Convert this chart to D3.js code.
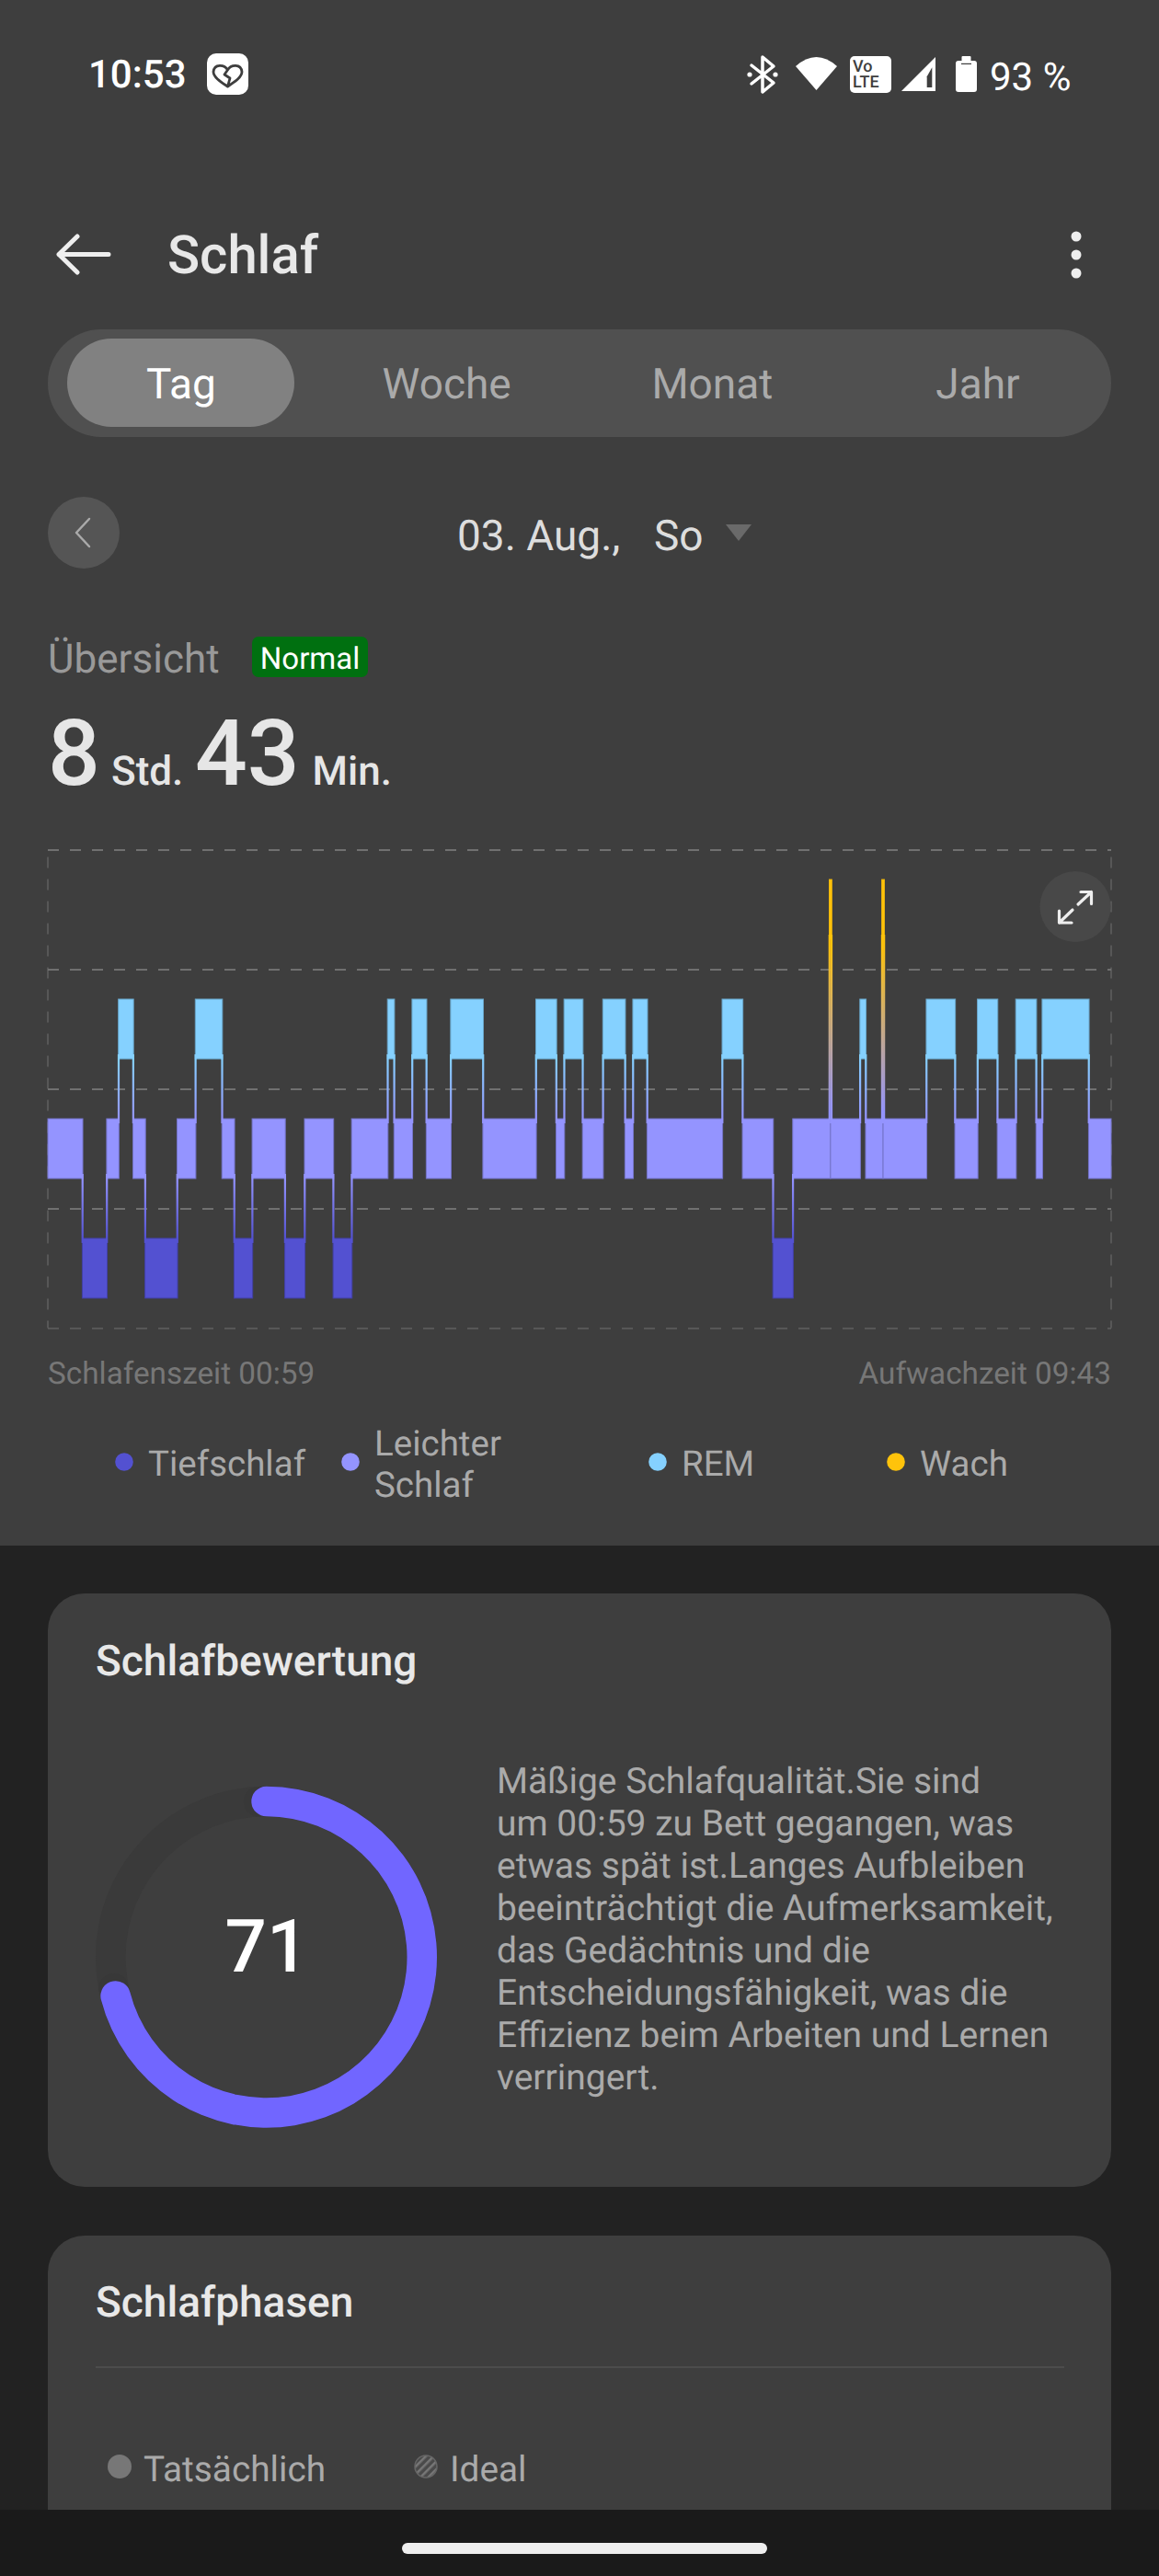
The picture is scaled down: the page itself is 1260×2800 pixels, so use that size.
<!DOCTYPE html>
<html>
<head>
    <meta charset="UTF-8">
    <title>Schlaf</title>
    <style>
        body { margin: 0; background: #222222; }
        svg { display: block; }
        text { font-family: Roboto, sans-serif; text-rendering: geometricPrecision; }
    </style>
</head>
<body>
<script src="https://cdn.jsdelivr.net/npm/d3@7/dist/d3.min.js"></script>
<script>
    // stages, top to bottom as in the chart
    const stageNames = ["Wach", "REM", "Leicht", "Tief"];
    const legendLabels = ["Tiefschlaf", "Leichter Schlaf", "REM", "Wach"];

    // minutes after falling asleep at which each phase begins
    const phaseStart = [0, 17.1, 29.1, 34.9, 42.1, 48, 63.8, 72.8, 85.9, 91.9, 100.8, 116.9, 126.6, 140.7, 149.8,
        167.5, 170.7, 179.6, 186.6, 198.6, 214.5, 240.6, 250.6, 254.5, 263.6, 273.6, 284.5, 288.4, 295.4, 332.4,
        342.4, 357.4, 367.2, 385.2, 386.2, 400.3, 403.1, 411.1, 412.1, 433, 447.1, 458.2, 468, 477.1, 487.1,
        490.1, 513];
    const phaseStage = ["Leicht", "Tief", "Leicht", "REM", "Leicht", "Tief", "Leicht", "REM", "Leicht", "Tief", "Leicht", "Tief", "Leicht", "Tief", "Leicht",
        "REM", "Leicht", "REM", "Leicht", "REM", "Leicht", "REM", "Leicht", "REM", "Leicht", "REM", "Leicht", "REM", "Leicht", "REM",
        "Leicht", "Tief", "Leicht", "Wach", "Leicht", "REM", "Leicht", "Wach", "Leicht", "REM", "Leicht", "REM", "Leicht", "REM", "Leicht",
        "REM", "Leicht"];
    const totalMinutes = 524;

    const tabLabels = ["Tag", "Woche", "Monat", "Jahr"];
    const scoreValue = 71;
    const scoreMax = 100;
    const scoreText = ["Mäßige Schlafqualität.Sie sind", "um 00:59 zu Bett gegangen, was", "etwas spät ist.Langes Aufbleiben",
        "beeinträchtigt die Aufmerksamkeit,", "das Gedächtnis und die", "Entscheidungsfähigkeit, was die",
        "Effizienz beim Arbeiten und Lernen", "verringert."];

    const stageColor = d3.scaleOrdinal()
        .domain(stageNames)
        .range(["#ffc30b", "#85d1ff", "#9494ff", "#5351d1"]);

    const svg = d3.select("body").append("svg")
        .attr("width", 1260)
        .attr("height", 2800);
    const defs = svg.append("defs");

    function rect(x, y, w, h, r, fill) {
        return svg.append("rect")
            .attr("x", x).attr("y", y)
            .attr("width", w).attr("height", h)
            .attr("rx", r).attr("ry", r)
            .attr("fill", fill);
    }

    function label(x, y, str, size, fill, weight, anchor) {
        return svg.append("text")
            .attr("x", x).attr("y", y)
            .attr("font-size", size)
            .attr("font-weight", weight || 400)
            .attr("text-anchor", anchor || "start")
            .attr("fill", fill)
            .text(str);
    }

    function path(d, fill, stroke, width) {
        return svg.append("path")
            .attr("d", d)
            .attr("fill", fill || "none")
            .attr("stroke", stroke || "none")
            .attr("stroke-width", width || 0)
            .attr("stroke-linecap", "round")
            .attr("stroke-linejoin", "round");
    }

    // backgrounds
    rect(0, 0, 1260, 1680, 0, "#3e3e3e");
    rect(0, 1680, 1260, 1120, 0, "#222222");

    // status bar
    label(96, 95, "10:53", 42, "#ffffff", 500);
    rect(225, 58, 45, 45, 10, "#ffffff");
    path("M247.5 76 C244 70 233 69 232 78 C232 84 240 89 247.5 94 C255 89 263 84 263 78 C262 69 251 70 247.5 76 L244 81 L250 85 L247.5 94", "none", "#3e3e3e", 2.8);

    path("M817 71 L841 90 L829 100 L829 62 L841 72 L817 91", "none", "#ffffff", 3.5);
    svg.selectAll(".bt-dot").data([815, 843]).join("circle")
        .attr("class", "bt-dot")
        .attr("cx", d => d).attr("cy", 81).attr("r", 2.6).attr("fill", "#ffffff");
    path("M887.5 98 L865 72 Q887.5 52 910 72 Z", "#ffffff");
    rect(924, 61, 45, 40, 5, "#ffffff");
    label(927, 77.5, "Vo", 18, "#3e3e3e", 500);
    label(927, 95, "LTE", 18, "#3e3e3e", 500);
    path("M980 99 L1017 62 L1017 99 Z", "#ffffff");
    path("M1007.7 83.3 L1013.3 73.3 L1013.3 95 L1007.7 95 Z", "#3e3e3e");
    rect(1045.5, 61, 10, 7, 1, "#ffffff");
    rect(1039, 66, 23, 34, 3, "#ffffff");
    rect(1045, 68.8, 11, 1.2, 0, "#3e3e3e");
    label(1076, 97.5, "93 %", 42, "#ffffff", 400);

    // title bar
    path("M64 276.5 H118 M84 257 L64 276.5 L84 296", "none", "#eeeeee", 5);
    label(182, 297, "Schlaf", 58, "#e8e8e8", 500);
    svg.selectAll(".menu-dot").data([257, 277, 297]).join("circle")
        .attr("class", "menu-dot")
        .attr("cx", 1170).attr("cy", d => d).attr("r", 5.5).attr("fill", "#eeeeee");

    // tabs
    rect(52, 358, 1156, 117, 58, "#505050");
    rect(73, 368, 247, 96, 48, "#818181");
    const tabX = d3.scalePoint().domain(tabLabels).range([197, 1063]);
    svg.selectAll(".tab").data(tabLabels).join("text")
        .attr("class", "tab")
        .attr("x", d => tabX(d)).attr("y", 433)
        .attr("font-size", 46)
        .attr("text-anchor", "middle")
        .attr("fill", (d, i) => i === 0 ? "#ffffff" : "#aaaaaa")
        .text(d => d);

    // date row
    svg.append("circle").attr("cx", 91).attr("cy", 579).attr("r", 39).attr("fill", "#555555");
    path("M97 564 L83 579 L97 594", "none", "#aaaaaa", 2.5);
    label(497, 598, "03. Aug.,", 46, "#dddddd");
    label(711, 598, "So", 46, "#dddddd");
    path("M789 570 H817 L803 588 Z", "#6a6a6a");

    // overview
    label(52, 731, "Übersicht", 44, "#999999");
    rect(274, 692, 126, 44, 7, "#007010");
    label(337, 727, "Normal", 33, "#ffffff", 400, "middle");
    label(52, 853, "8", 100, "#e6e6e6", 500);
    label(121, 853, "Std.", 44, "#e6e6e6", 500);
    label(212, 853, "43", 100, "#e6e6e6", 500);
    label(339.5, 853, "Min.", 44, "#e6e6e6", 500);

    // sleep chart
    const chartLeft = 52, chartRight = 1208, chartTop = 923.5, chartBottom = 1443.5;

    const x = d3.scaleLinear()
        .domain([0, totalMinutes])
        .range([chartLeft, chartRight]);

    const y = d3.scaleBand()
        .domain(stageNames)
        .range([chartTop, chartBottom])
        .paddingInner(0.5)
        .paddingOuter(0.25);

    const yGrid = d3.scaleLinear()
        .domain([0, stageNames.length])
        .range([chartBottom, chartTop]);

    const gridH = svg.append("g")
        .attr("transform", "translate(" + chartLeft + ",0)")
        .call(d3.axisLeft(yGrid).ticks(4).tickSize(-(chartRight - chartLeft)).tickFormat(""));
    gridH.select(".domain").remove();
    gridH.selectAll("line")
        .attr("stroke", "#707070")
        .attr("stroke-width", (d, i) => i === 0 ? 1 : 2)
        .attr("stroke-dasharray", "12 12");

    [chartLeft, chartRight].forEach(function (gx) {
        svg.append("line")
            .attr("x1", gx).attr("x2", gx)
            .attr("y1", chartTop + 8).attr("y2", chartBottom)
            .attr("stroke", "#707070")
            .attr("stroke-width", 1)
            .attr("stroke-dasharray", "12 12");
    });

    const phases = phaseStart.map(function (start, i) {
        return {
            start: start,
            end: i < phaseStart.length - 1 ? phaseStart[i + 1] : totalMinutes,
            stage: phaseStage[i]
        };
    });

    // the bars on both sides of a short wake-up touch, only the hairline is left
    function barLeft(d, i) {
        if (i > 0 && phases[i - 1].stage === "Wach") return x((phases[i - 1].start + d.start) / 2);
        return Math.max(chartLeft, x(d.start) - 0.3);
    }

    function barRight(d, i) {
        if (i < phases.length - 1 && phases[i + 1].stage === "Wach") return x((d.end + phases[i + 1].end) / 2);
        return Math.min(chartRight, x(d.end) + 0.3);
    }

    svg.append("g").selectAll("rect")
        .data(phases)
        .join("rect")
        .attr("x", barLeft)
        .attr("y", d => y(d.stage))
        .attr("width", (d, i) => barRight(d, i) - barLeft(d, i))
        .attr("height", y.bandwidth())
        .attr("fill", d => stageColor(d.stage))
        .attr("stroke", d => d3.rgb(stageColor(d.stage)).darker(d.stage === "Wach" ? 0.2 : 0.65))
        .attr("stroke-width", 1);

    // gradient strips joining one phase to the next
    const joins = d3.pairs(phases).map(function (pair) {
        const upper = y(pair[0].stage) < y(pair[1].stage) ? pair[0] : pair[1];
        const lower = upper === pair[0] ? pair[1] : pair[0];
        return { at: pair[1].start, upper: upper.stage, lower: lower.stage };
    });

    d3.cross(stageNames, stageNames).forEach(function (p) {
        const g = defs.append("linearGradient")
            .attr("id", "join-" + p[0] + "-" + p[1])
            .attr("x1", 0).attr("x2", 0).attr("y1", 0).attr("y2", 1);
        g.append("stop").attr("offset", "6%").attr("stop-color", stageColor(p[0]));
        g.append("stop").attr("offset", "94%").attr("stop-color", stageColor(p[1]));
    });

    svg.append("g").selectAll("rect")
        .data(joins)
        .join("rect")
        .attr("x", d => x(d.at) - 1.1)
        .attr("y", d => y(d.upper) + y.bandwidth() - 5)
        .attr("width", 2.2)
        .attr("height", d => y(d.lower) - y(d.upper) - y.bandwidth() + 10)
        .attr("fill", d => "url(#join-" + d.upper + "-" + d.lower + ")");

    // expand button
    svg.append("circle").attr("cx", 1169).attr("cy", 985.5).attr("r", 38.5).attr("fill", "#484848");
    path("M1172 983 L1186.5 969.5 M1175 969.5 H1186.5 V982.5 M1166 989 L1151.5 1003 M1151.5 990 V1003 H1165", "none", "#eeeeee", 3.2);

    // chart footer
    label(52, 1504, "Schlafenszeit 00:59", 33.3, "#777777");
    label(1208, 1504, "Aufwachzeit 09:43", 33.3, "#777777", 400, "end");

    // legend
    const legendDotX = [135, 381, 715, 974];
    const legendColor = ["Tief", "Leicht", "REM", "Wach"];
    legendLabels.forEach(function (name, i) {
        svg.append("circle")
            .attr("cx", legendDotX[i]).attr("cy", 1589).attr("r", 9.8)
            .attr("fill", stageColor(legendColor[i]));
        if (name.indexOf(" ") > 0) {
            name.split(" ").forEach(function (part, j) {
                label(legendDotX[i] + 26, 1582 + j * 45, part, 38.5, "#aaaaaa");
            });
        } else {
            label(legendDotX[i] + 26, 1604, name, 38.5, "#aaaaaa");
        }
    });

    // score card
    rect(52, 1732, 1156, 645, 40, "#3e3e3e");
    label(104, 1821, "Schlafbewertung", 46, "#e8e8e8", 500);

    const ringX = 289.5, ringY = 2127.3;
    const capAngle = 16.2 / 169.2;
    const angle = d3.scaleLinear().domain([0, scoreMax]).range([0, 2 * Math.PI]);
    const ringArc = d3.arc().innerRadius(153).outerRadius(185.5).cornerRadius(16.2);
    const ring = svg.append("g").attr("transform", "translate(" + ringX + "," + ringY + ")");

    ring.append("path")
        .attr("d", d3.arc().innerRadius(153).outerRadius(185.5)({ startAngle: 0, endAngle: 2 * Math.PI }))
        .attr("fill", "#3a3a3a");
    ring.append("path")
        .attr("d", ringArc({ startAngle: -capAngle - 0.05, endAngle: angle(scoreValue) + capAngle + 0.05 }))
        .attr("fill", "#383838");
    ring.append("path")
        .attr("d", ringArc({ startAngle: -capAngle, endAngle: angle(scoreValue) + capAngle }))
        .attr("fill", "#7166ff");
    label(290, 2143, String(scoreValue), 80, "#ffffff", 500, "middle");

    svg.selectAll(".score-line").data(scoreText).join("text")
        .attr("class", "score-line")
        .attr("x", 540)
        .attr("y", (d, i) => 1949 + i * 46)
        .attr("font-size", 39)
        .attr("fill", "#aaaaaa")
        .text(d => d);

    // phases card, runs on under the navigation bar
    rect(52, 2430, 1156, 400, 40, "#3e3e3e");
    label(104, 2518, "Schlafphasen", 46, "#e8e8e8", 500);
    rect(104, 2572, 1053, 2, 0, "#4c4c4c");

    const hatch = defs.append("pattern")
        .attr("id", "ideal-hatch")
        .attr("width", 6).attr("height", 6)
        .attr("patternUnits", "userSpaceOnUse")
        .attr("patternTransform", "rotate(45)");
    hatch.append("rect").attr("width", 6).attr("height", 6).attr("fill", "#4a4a4a");
    hatch.append("rect").attr("width", 2.5).attr("height", 6).attr("fill", "#777777");

    svg.append("circle").attr("cx", 130).attr("cy", 2681).attr("r", 13).attr("fill", "#777777");
    label(156, 2697, "Tatsächlich", 38.8, "#aaaaaa");
    svg.append("circle").attr("cx", 463).attr("cy", 2681).attr("r", 12).attr("fill", "url(#ideal-hatch)")
        .attr("stroke", "#666666").attr("stroke-width", 1.5);
    label(489, 2697, "Ideal", 38.8, "#aaaaaa");

    // navigation bar
    rect(0, 2728, 1260, 72, 0, "#1a1a1a");
    rect(437, 2764, 397, 12, 6, "#eeeeee");
</script>
</body>
</html>
